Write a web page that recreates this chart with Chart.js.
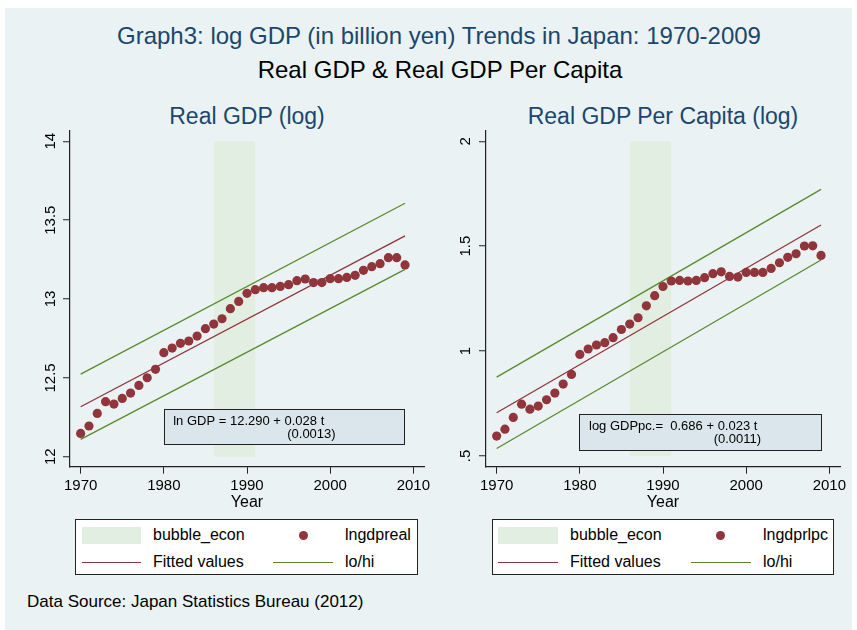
<!DOCTYPE html>
<html>
<head>
<meta charset="utf-8">
<script src="https://cdn.jsdelivr.net/npm/chart.js@4.4.1/dist/chart.umd.min.js"></script>
<style>
  body { margin: 0; background: #fff; font-family: "Liberation Sans", Arial, sans-serif; }
  #page { position: absolute; left: 5px; top: 8px; width: 847px; height: 622px; background: #eaf2f3; }
  .txt { position: absolute; white-space: nowrap; }
  .title { font-size: 24px; line-height: 24px; text-align: center; width: 700px; }
  .sub { font-size: 23px; line-height: 23px; text-align: center; width: 400px; color: #1a476f; }
  canvas { position: absolute; }
  .legend { position: absolute; top: 519px; height: 56px; background: #fff; border: 1px solid #222; box-sizing: border-box; }
  .lg { position: absolute; font-size: 16px; line-height: 20px; height: 20px; white-space: nowrap; }
  .swatch { position: absolute; height: 17px; background: #e3eee3; }
  .dot { position: absolute; width: 9px; height: 9px; border-radius: 50%; background: #90353b; }
  .ln { position: absolute; height: 1.5px; }
</style>
</head>
<body>
<div id="page"></div>

<div class="txt title" style="left:89px; top:24px; color:#1a476f;">Graph3: log GDP (in billion yen) Trends in Japan: 1970-2009</div>
<div class="txt title" style="left:90px; top:58px; color:#000;">Real GDP &amp; Real GDP Per Capita</div>
<div class="txt sub" style="left:47px; top:105px;">Real GDP (log)</div>
<div class="txt sub" style="left:463px; top:105px;">Real GDP Per Capita (log)</div>

<canvas id="gdpChart" style="left:0px; top:118px;" width="436" height="394"></canvas>
<canvas id="pcChart" style="left:430px; top:118px;" width="427" height="394"></canvas>

<div class="legend" style="left:75px; width:343px;"></div>
<div class="swatch" style="left:82px; top:527px; width:59px;"></div>
<div class="lg" style="left:153px; top:525px;">bubble_econ</div>
<div class="dot" style="left:299px; top:531px;"></div>
<div class="lg" style="left:345px; top:525px;">lngdpreal</div>
<div class="ln" style="left:82px; top:561.5px; width:59px; background:#90353b;"></div>
<div class="lg" style="left:153px; top:552px;">Fitted values</div>
<div class="ln" style="left:273px; top:561.5px; width:60px; background:#5a8a2e;"></div>
<div class="lg" style="left:345px; top:552px;">lo/hi</div>

<div class="legend" style="left:492px; width:342px;"></div>
<div class="swatch" style="left:498px; top:527px; width:60px;"></div>
<div class="lg" style="left:570px; top:525px;">bubble_econ</div>
<div class="dot" style="left:716px; top:531px;"></div>
<div class="lg" style="left:763px; top:525px;">lngdprlpc</div>
<div class="ln" style="left:498px; top:561.5px; width:60px; background:#90353b;"></div>
<div class="lg" style="left:570px; top:552px;">Fitted values</div>
<div class="ln" style="left:691px; top:561.5px; width:60px; background:#5a8a2e;"></div>
<div class="lg" style="left:763px; top:552px;">lo/hi</div>

<div class="txt" style="left:27px; top:592px; font-size:17px; line-height:20px;">Data Source: Japan Statistics Bureau (2012)</div>

<script>
// Years 1970-2009
const years = [1970, 1971, 1972, 1973, 1974, 1975, 1976, 1977, 1978, 1979,
  1980, 1981, 1982, 1983, 1984, 1985, 1986, 1987, 1988, 1989,
  1990, 1991, 1992, 1993, 1994, 1995, 1996, 1997, 1998, 1999,
  2000, 2001, 2002, 2003, 2004, 2005, 2006, 2007, 2008, 2009];

// log real GDP
const lngdpreal = [12.148, 12.195, 12.275, 12.349, 12.334, 12.370, 12.404, 12.452, 12.501, 12.554,
  12.660, 12.689, 12.719, 12.734, 12.765, 12.812, 12.841, 12.875, 12.939, 12.985,
  13.036, 13.059, 13.072, 13.072, 13.080, 13.091, 13.116, 13.127, 13.104, 13.104,
  13.129, 13.129, 13.137, 13.150, 13.182, 13.205, 13.224, 13.262, 13.262, 13.216];

// log real GDP per capita
const lngdprlpc = [0.595, 0.628, 0.684, 0.747, 0.723, 0.738, 0.768, 0.800, 0.843, 0.889,
  0.984, 1.010, 1.029, 1.040, 1.064, 1.103, 1.129, 1.159, 1.216, 1.264,
  1.308, 1.334, 1.337, 1.334, 1.337, 1.350, 1.369, 1.378, 1.356, 1.353,
  1.375, 1.375, 1.375, 1.394, 1.421, 1.447, 1.464, 1.501, 1.502, 1.456];

// Fitted lines and bands (end points)
const fitYears = [1970, 2009];
const gdpFit = [12.317, 13.400];
const gdpLo = [12.110, 13.188];
const gdpHi = [12.524, 13.607];
const pcFit = [0.706, 1.601];
const pcLo = [0.536, 1.434];
const pcHi = [0.876, 1.771];

// Bubble economy period
const bubbleYears = [1986, 1991];
const gdpBubbleRange = [12, 14];
const pcBubbleRange = [0.5, 2];

// Ticks
const xTicks = [1970, 1980, 1990, 2000, 2010];
const gdpYTicks = [12, 12.5, 13, 13.5, 14];
const gdpYLabels = ['12', '12.5', '13', '13.5', '14'];
const pcYTicks = [0.5, 1, 1.5, 2];
const pcYLabels = ['.5', '1', '1.5', '2'];

const FONT = '"Liberation Sans", Arial, sans-serif';
const RED = '#90353b';
const GREEN = '#5a8a2e';

const toXY = (xs, ys) => xs.map((x, i) => ({ x: x, y: ys[i] }));

// Regression text box
const noteBox = {
  id: 'noteBox',
  afterDatasetsDraw(chart, args, opts) {
    const { ctx, scales: { x, y } } = chart;
    const l = x.getPixelForValue(opts.x0), r = x.getPixelForValue(opts.x1);
    const t = y.getPixelForValue(opts.y1), b = y.getPixelForValue(opts.y0);
    ctx.save();
    ctx.fillStyle = '#dae6eb';
    ctx.fillRect(l, t, r - l, b - t);
    ctx.strokeStyle = '#222';
    ctx.lineWidth = 1;
    ctx.strokeRect(Math.round(l) + 0.5, Math.round(t) + 0.5, Math.round(r - l), Math.round(b - t));
    ctx.fillStyle = '#000';
    ctx.font = '13px ' + FONT;
    ctx.textBaseline = 'alphabetic';
    ctx.fillText(opts.line1, l + opts.dx1, t + 15.5);
    ctx.fillText(opts.line2, l + opts.dx2, t + 29);
    ctx.restore();
  }
};

function makePanel(id, cfg) {
  const ctx = document.getElementById(id).getContext('2d');
  return new Chart(ctx, {
    type: 'line',
    data: {
      datasets: [
        {
          data: toXY(years, cfg.values),
          showLine: false,
          pointRadius: 4.6,
          pointBorderWidth: 0,
          pointBackgroundColor: RED,
          borderColor: RED
        },
        {
          data: toXY(fitYears, cfg.fit),
          borderColor: RED,
          borderWidth: 1.3,
          pointRadius: 0
        },
        {
          data: toXY(fitYears, cfg.lo),
          borderColor: GREEN,
          borderWidth: 1.3,
          pointRadius: 0
        },
        {
          data: toXY(fitYears, cfg.hi),
          borderColor: GREEN,
          borderWidth: 1.3,
          pointRadius: 0
        },
        {
          data: toXY(bubbleYears, [cfg.bubble[1], cfg.bubble[1]]),
          borderWidth: 0,
          borderColor: 'rgba(0,0,0,0)',
          backgroundColor: '#e3eee3',
          pointRadius: 0,
          fill: { value: cfg.bubble[0] }
        }
      ]
    },
    options: {
      responsive: false,
      animation: false,
      events: [],
      layout: { padding: { left: 0, top: 12.7, right: cfg.padRight, bottom: 0 } },
      plugins: {
        legend: { display: false },
        tooltip: { enabled: false },
        noteBox: cfg.note
      },
      scales: {
        x: {
          type: 'linear',
          min: 1968.72,
          max: 2011.28,
          afterBuildTicks: s => { s.ticks = xTicks.map(v => ({ value: v })); },
          afterFit: s => { s.height = 45.3; },
          border: { display: true, color: '#222', width: 1.2 },
          grid: { drawOnChartArea: false, drawTicks: true, tickLength: 7, tickColor: '#222', tickWidth: 1 },
          ticks: { color: '#000', font: { family: FONT, size: 15 }, padding: 3, maxRotation: 0,
                   callback: v => String(v) },
          title: { display: true, text: 'Year', color: '#000', font: { family: FONT, size: 16 }, padding: 0 }
        },
        y: {
          min: cfg.yMin,
          max: cfg.yMax,
          afterBuildTicks: s => { s.ticks = cfg.yTicks.map(v => ({ value: v })); },
          afterFit: s => { s.width = cfg.axisWidth; },
          border: { display: true, color: '#222', width: 1.2 },
          grid: { color: '#eaf2f3', lineWidth: 1.5, tickLength: 7, tickColor: '#222', tickWidth: 1 },
          ticks: {
            color: '#000',
            font: { family: FONT, size: 15 },
            minRotation: 90,
            maxRotation: 90,
            crossAlign: 'center',
            padding: cfg.labelPad,
            callback: v => cfg.yLabels[cfg.yTicks.indexOf(v)]
          }
        }
      }
    },
    plugins: [noteBox]
  });
}

makePanel('gdpChart', {
  values: lngdpreal, fit: gdpFit, lo: gdpLo, hi: gdpHi, bubble: gdpBubbleRange,
  yMin: 11.937, yMax: 14.067, yTicks: gdpYTicks, yLabels: gdpYLabels,
  axisWidth: 70, padRight: 12, labelPad: -2.9,
  note: { x0: 1980.0, x1: 2008.9, y0: 12.079, y1: 12.30, dx1: 9.4, dx2: 123.4,
          line1: 'ln GDP = 12.290 + 0.028 t', line2: '(0.0013)' }
});

makePanel('pcChart', {
  values: lngdprlpc, fit: pcFit, lo: pcLo, hi: pcHi, bubble: pcBubbleRange,
  yMin: 0.449, yMax: 2.0505, yTicks: pcYTicks, yLabels: pcYLabels,
  axisWidth: 56, padRight: 17, labelPad: 2.6,
  note: { x0: 1979.9, x1: 2009.04, y0: 0.528, y1: 0.700, dx1: 10, dx2: 134.7,
          line1: 'log GDPpc.=  0.686 + 0.023 t', line2: '(0.0011)' }
});
</script>
</body>
</html>
